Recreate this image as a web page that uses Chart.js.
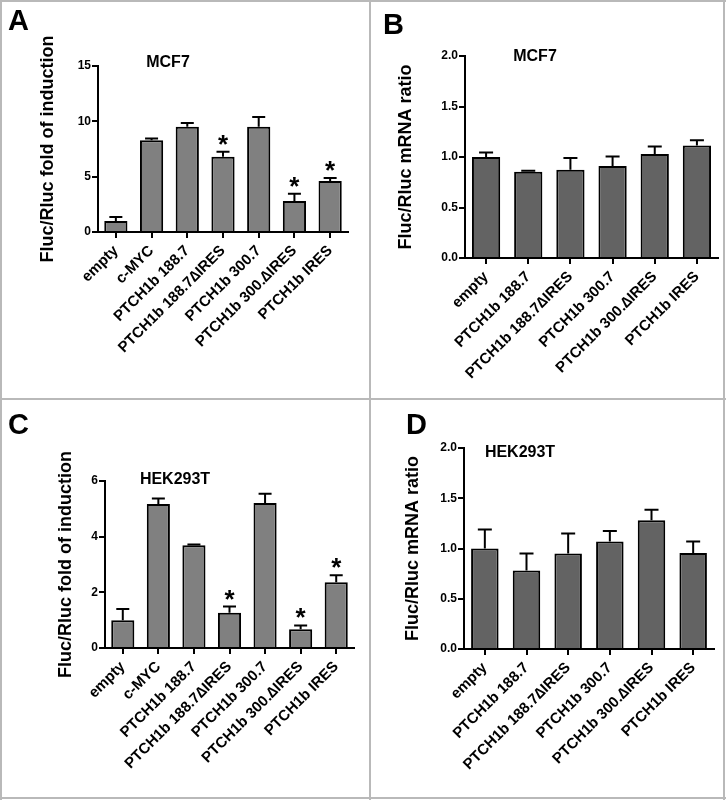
<!DOCTYPE html>
<html>
<head>
<meta charset="utf-8">
<script src="https://cdn.jsdelivr.net/npm/chart.js@4.4.1/dist/chart.umd.min.js"></script>
<style>
  html, body { margin: 0; padding: 0; background: #fff; }
  #wrap { position: relative; width: 726px; height: 800px; overflow: hidden; background: #fff; }
  #wrap canvas { position: absolute; left: 0; top: 0; }
  .ln { position: absolute; background: #b9b9b9; }
  .letter { position: absolute; font-family: "Liberation Sans", Arial, sans-serif; font-weight: bold; font-size: 29px; line-height: 1; color: #000; }
</style>
</head>
<body>
<div id="wrap">
  <canvas id="cA" width="726" height="800"></canvas>
  <canvas id="cB" width="726" height="800"></canvas>
  <canvas id="cC" width="726" height="800"></canvas>
  <canvas id="cD" width="726" height="800"></canvas>
  <div class="ln" style="left:0;top:0;width:2px;height:800px"></div>
  <div class="ln" style="left:369px;top:0;width:2px;height:800px"></div>
  <div class="ln" style="left:723px;top:0;width:2px;height:800px"></div>
  <div class="ln" style="left:0;top:0;width:726px;height:2px"></div>
  <div class="ln" style="left:0;top:398px;width:726px;height:2px"></div>
  <div class="ln" style="left:0;top:797px;width:726px;height:2px"></div>
  <div class="letter" style="left:8px;top:6px">A</div>
  <div class="letter" style="left:383px;top:10px">B</div>
  <div class="letter" style="left:8px;top:410px">C</div>
  <div class="letter" style="left:406px;top:410px">D</div>
</div>
<script>
// ---------- DATA ----------
const foldCategories = ['empty', 'c-MYC', 'PTCH1b 188.7', 'PTCH1b 188.7\u2206IRES', 'PTCH1b 300.7', 'PTCH1b 300.\u2206IRES', 'PTCH1b IRES'];
const ratioCategories = ['empty', 'PTCH1b 188.7', 'PTCH1b 188.7\u2206IRES', 'PTCH1b 300.7', 'PTCH1b 300.\u2206IRES', 'PTCH1b IRES'];

const foldMCF7 = [1.0, 8.3, 9.5, 6.8, 9.5, 2.8, 4.6];
const foldMCF7Err = [0.35, 0.15, 0.35, 0.45, 0.9, 0.65, 0.28];
const foldMCF7Sig = [false, false, false, true, false, true, true];

const ratioMCF7 = [1.0, 0.855, 0.875, 0.91, 1.03, 1.115];
const ratioMCF7Err = [0.045, 0.01, 0.115, 0.095, 0.075, 0.05];

const foldHEK = [1.0, 5.17, 3.69, 1.27, 5.21, 0.67, 2.36];
const foldHEKErr = [0.4, 0.2, 0.03, 0.22, 0.33, 0.14, 0.25];
const foldHEKSig = [false, false, false, true, false, true, true];

const ratioHEK = [1.0, 0.78, 0.95, 1.07, 1.28, 0.955];
const ratioHEKErr = [0.19, 0.17, 0.2, 0.105, 0.105, 0.115];
const noSig = [false, false, false, false, false, false];

const foldMCF7Ticks = [0, 5, 10, 15];
const ratioTicks = [0.0, 0.5, 1.0, 1.5, 2.0];
const foldHEKTicks = [0, 2, 4, 6];

// ---------- RENDERING ----------
const FONT = '"Liberation Sans", Arial, sans-serif';
Chart.defaults.font.family = FONT;
Chart.defaults.color = '#000';

const extras = {
  id: 'extras',
  afterDatasetsDraw(chart, args, opts) {
    const ctx = chart.ctx;
    const meta = chart.getDatasetMeta(0);
    const ys = chart.scales.y;
    const vals = chart.data.datasets[0].data;
    ctx.save();
    ctx.strokeStyle = '#000';
    ctx.fillStyle = '#000';
    ctx.lineWidth = 2;
    meta.data.forEach((bar, i) => {
      const v = vals[i];
      const e = opts.errors[i];
      const yTop = ys.getPixelForValue(v);
      const yErr = ys.getPixelForValue(v + e);
      ctx.beginPath();
      ctx.moveTo(bar.x, yTop);
      ctx.lineTo(bar.x, yErr);
      ctx.moveTo(bar.x - opts.cap / 2, yErr);
      ctx.lineTo(bar.x + opts.cap / 2, yErr);
      ctx.stroke();
      if (opts.sig[i]) {
        ctx.font = 'bold 26px ' + FONT;
        ctx.textAlign = 'center';
        ctx.textBaseline = 'alphabetic';
        ctx.fillText('*', bar.x, yErr + 1);
      }
    });
    ctx.font = 'bold 16px ' + FONT;
    ctx.textAlign = 'center';
    ctx.textBaseline = 'middle';
    ctx.fillText(opts.title, opts.titleX, opts.titleY);
    ctx.restore();
  }
};

function makeChart(id, p) {
  const W = p.left - p.titleCx + 10.8; // y-axis box width so the title centre lands at titleCx
  const H = 145;
  return new Chart(document.getElementById(id), {
    type: 'bar',
    data: {
      labels: p.labels,
      datasets: [{
        data: p.values,
        backgroundColor: p.fill,
        borderColor: '#000',
        borderWidth: 2,
        borderSkipped: 'start',
        barPercentage: p.barPct,
        categoryPercentage: 1.0
      }]
    },
    options: {
      responsive: false,
      animation: false,
      events: [],
      layout: {
        padding: {
          left: p.left - W,
          top: p.top,
          right: 726 - p.right,
          bottom: Math.max(0, 800 - p.bottom - H)
        }
      },
      plugins: {
        legend: { display: false },
        tooltip: { enabled: false },
        title: { display: false },
        extras: {
          errors: p.errors, sig: p.sig, cap: p.cap,
          title: p.title, titleX: p.titleX, titleY: p.titleY
        }
      },
      scales: {
        x: {
          type: 'category',
          offset: true,
          afterFit: (s) => { s.height = H; },
          border: { display: true, color: '#000', width: 2 },
          grid: { display: true, drawOnChartArea: false, drawTicks: true, tickLength: 6, color: '#000', lineWidth: 2, offset: false },
          ticks: {
            autoSkip: false, minRotation: 45, maxRotation: 45, padding: 4,
            font: { size: 15, weight: 'bold', family: FONT }, color: '#000'
          }
        },
        y: {
          min: p.ticks[0],
          max: p.ticks[p.ticks.length - 1],
          afterFit: (s) => { s.width = W; },
          afterBuildTicks: (s) => { s.ticks = p.ticks.map(v => ({ value: v })); },
          border: { display: true, color: '#000', width: 2 },
          grid: { display: true, drawOnChartArea: false, drawTicks: true, tickLength: 6, color: '#000', lineWidth: 2 },
          title: {
            display: true, text: p.yTitle, padding: 0,
            font: { size: 18, weight: 'bold', family: FONT, lineHeight: 1.2 }, color: '#000'
          },
          ticks: {
            padding: 1,
            font: { size: 12, weight: 'bold', family: FONT }, color: '#000',
            callback: (v) => p.fmt(v)
          }
        }
      }
    },
    plugins: [extras]
  });
}

const intFmt = (v) => String(Math.round(v));
const decFmt = (v) => Number(v).toFixed(1);

makeChart('cA', {
  labels: foldCategories, values: foldMCF7, errors: foldMCF7Err, sig: foldMCF7Sig,
  ticks: foldMCF7Ticks, fmt: intFmt, fill: '#808080', barPct: 0.65, cap: 13,
  left: 98, right: 348, top: 66, bottom: 232,
  titleCx: 48, yTitle: 'Fluc/Rluc fold of induction',
  title: 'MCF7', titleX: 168, titleY: 63
});
makeChart('cB', {
  labels: ratioCategories, values: ratioMCF7, errors: ratioMCF7Err, sig: noSig,
  ticks: ratioTicks, fmt: decFmt, fill: '#636363', barPct: 0.67, cap: 14,
  left: 465, right: 718, top: 56, bottom: 258,
  titleCx: 406, yTitle: 'Fluc/Rluc mRNA ratio',
  title: 'MCF7', titleX: 535, titleY: 57
});
makeChart('cC', {
  labels: foldCategories, values: foldHEK, errors: foldHEKErr, sig: foldHEKSig,
  ticks: foldHEKTicks, fmt: intFmt, fill: '#808080', barPct: 0.65, cap: 13,
  left: 105, right: 354, top: 481, bottom: 648,
  titleCx: 66, yTitle: 'Fluc/Rluc fold of induction',
  title: 'HEK293T', titleX: 175, titleY: 480
});
makeChart('cD', {
  labels: ratioCategories, values: ratioHEK, errors: ratioHEKErr, sig: noSig,
  ticks: ratioTicks, fmt: decFmt, fill: '#636363', barPct: 0.66, cap: 14,
  left: 464, right: 714, top: 448, bottom: 649,
  titleCx: 413, yTitle: 'Fluc/Rluc mRNA ratio',
  title: 'HEK293T', titleX: 520, titleY: 453
});
</script>
</body>
</html>
